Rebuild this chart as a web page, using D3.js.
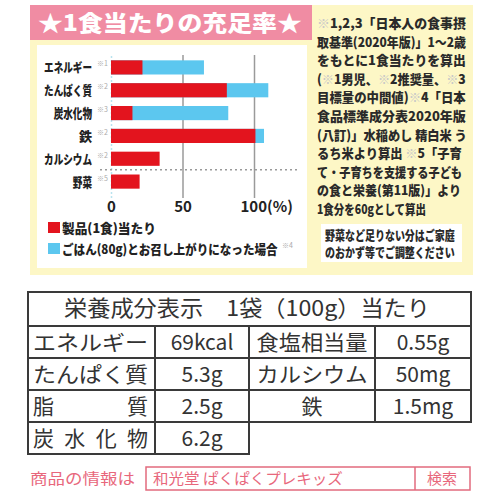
<!DOCTYPE html>
<html>
<head>
<meta charset="utf-8">
<script src="https://cdn.jsdelivr.net/npm/d3@7"></script>
<style>
  body { margin: 0; background: #fff; }
  svg { display: block; }
  text { font-family: "Noto Sans CJK JP", "Noto Sans", sans-serif; }
</style>
</head>
<body>
<svg id="chart" width="500" height="500"></svg>
<script>
var categories = ["エネルギー", "たんぱく質", "炭水化物", "鉄", "カルシウム", "野菜"];
var noteMarks = ["※1", "※2", "※3", "※2", "※2", "※5"];
var productPct = [22, 81, 15, 101, 34, 20];
var withRicePct = [65, 110, 82, 107, 0, 0];
var tickValues = [0, 50, 100];
var legendLabels = ["製品(1食)当たり", "ごはん(80g)とお召し上がりになった場合"];
var legendMarks = ["", "※4"];

var noteLines = [
    "※1,2,3「日本人の食事摂",
    "取基準(2020年版)」1～2歳",
    "をもとに1食当たりを算出",
    "(※1男児、※2推奨量、※3",
    "目標量の中間値)※4「日本",
    "食品標準成分表2020年版",
    "(八訂)」水稲めし 精白米 う",
    "るち米より算出 ※5「子育",
    "て・子育ちを支援する子ども",
    "の食と栄養(第11版)」より",
    "1食分を60gとして算出"
];
var noteWidths = [149, 149, 149, 149, 149, 149, 150, 145, 145, 144, 109];
var adviceLines = ["野菜など足りない分はご家庭", "のおかず等でご調整ください"];

var tableHeader = "栄養成分表示　1袋（100g）当たり";
var tableRows = [
    ["エネルギー", "69kcal", "食塩相当量", "0.55g"],
    ["たんぱく質", "5.3g", "カルシウム", "50mg"],
    ["脂質", "2.5g", "鉄", "1.5mg"],
    ["炭水化物", "6.2g"]
];
var searchLead = "商品の情報は";
var searchWord = "和光堂 ぱくぱくプレキッズ";
var searchButton = "検索";

var red = "#e3141e", blue = "#5cc7ef", pink = "#f08ca3", yellow = "#fdf7c6";

var svg = d3.select("#chart");

// squeeze a text horizontally so it is exactly w wide (anchor: start or end)
function squeeze(sel, tx, ty, w, anchor){
    sel.each(function(d, i){
        var node = this;
        var ww = typeof w === "function" ? w(d, i) : w;
        var len = node.getComputedTextLength();
        var s = ww && len > 0 ? ww / len : 1;
        var xx = typeof tx === "function" ? tx(d, i) : tx;
        var yy = typeof ty === "function" ? ty(d, i) : ty;
        d3.select(node).attr("x", 0).attr("y", 0)
            .attr("text-anchor", anchor || "start")
            .attr("transform", "translate(" + xx + "," + yy + ") scale(" + s + ",1)");
    });
}

// frames
svg.append("rect").attr("x", 30).attr("y", 5).attr("width", 443).attr("height", 270).attr("fill", yellow);
svg.append("rect").attr("x", 30).attr("y", 5).attr("width", 282).attr("height", 35).attr("fill", pink);
svg.append("rect").attr("x", 37).attr("y", 45).attr("width", 270).attr("height", 223).attr("fill", "#fff");

svg.append("text")
    .attr("font-size", 22).attr("font-weight", 900).attr("fill", "#fff")
    .text("★1食当たりの充足率★")
    .call(squeeze, 38, 31, 264);

// scales
var x = d3.scaleLinear().domain([0, 100]).range([111, 254]);
var y = d3.scaleBand().domain(categories).range([56, 193]).paddingInner(0.38).paddingOuter(0.19);

// grid / axis
var axis = svg.append("g")
    .attr("transform", "translate(0,198)")
    .call(d3.axisBottom(x).tickValues(tickValues).tickSize(-143).tickPadding(3)
        .tickFormat(function(d){ return d === 100 ? "100(%)" : d; }));
axis.select(".domain").remove();
axis.selectAll(".tick line")
    .attr("stroke", function(d){ return d === 0 ? "#b9e3ef" : "#9a9a9a"; })
    .attr("stroke-width", 1.5)
    .attr("stroke-dasharray", function(d){ return d === 0 ? "2,2" : null; });
axis.selectAll(".tick text")
    .attr("font-size", 15).attr("font-weight", 700).attr("fill", "#222")
    .attr("font-family", "\"Noto Sans CJK JP\", sans-serif")
    .attr("text-anchor", function(d){ return d === 100 ? "start" : "middle"; })
    .attr("x", function(d){ return d === 100 ? -14 : 0; });

// dotted separator
svg.append("line")
    .attr("x1", 100).attr("x2", 300)
    .attr("y1", y("カルシウム") + y.bandwidth() + 4).attr("y2", y("カルシウム") + y.bandwidth() + 4)
    .attr("stroke", "#999").attr("stroke-width", 1.5).attr("stroke-dasharray", "2,3");

// bars
svg.selectAll(".rice").data(categories).enter().append("rect")
    .attr("x", x(0))
    .attr("y", function(d){ return y(d); })
    .attr("width", function(d, i){ return x(withRicePct[i]) - x(0); })
    .attr("height", y.bandwidth())
    .attr("fill", blue);
svg.selectAll(".prod").data(categories).enter().append("rect")
    .attr("x", x(0))
    .attr("y", function(d){ return y(d); })
    .attr("width", function(d, i){ return x(productPct[i]) - x(0); })
    .attr("height", y.bandwidth())
    .attr("fill", red);

// category labels
var lab = svg.selectAll(".lab").data(categories).enter().append("g");
lab.append("text")
    .attr("font-size", 13).attr("font-weight", 900).attr("fill", "#222")
    .text(function(d){ return d; })
    .call(squeeze, 92, function(d){ return y(d) + y.bandwidth() / 2 + 5; },
        function(d){ return d.length > 1 ? d.length * 9.6 : null; }, "end");
lab.append("text")
    .attr("x", 97)
    .attr("y", function(d){ return y(d) + y.bandwidth() / 2 - 1; })
    .attr("font-size", 7).attr("fill", "#aaa")
    .text(function(d, i){ return noteMarks[i]; });

// legend
var leg = svg.selectAll(".leg").data(legendLabels).enter().append("g")
    .attr("transform", function(d, i){ return "translate(48," + (222 + i * 21) + ")"; });
leg.append("rect").attr("width", 12).attr("height", 11)
    .attr("fill", function(d, i){ return i === 0 ? red : blue; });
leg.append("text")
    .attr("font-size", 13).attr("font-weight", 900).attr("fill", "#222")
    .text(function(d){ return d; })
    .call(squeeze, 14, 10.5, function(d, i){ return i === 0 ? 94 : 216; });
leg.append("text")
    .attr("x", 234).attr("y", 5)
    .attr("font-size", 7).attr("fill", "#aaa")
    .text(function(d, i){ return legendMarks[i]; });

// notes
function markText(sel, str){
    str.split(/(※)/).forEach(function(part){
        if (!part) return;
        sel.append("tspan").attr("fill", part === "※" ? "#c8c8c8" : "#2a2a2a").text(part);
    });
}
noteLines.forEach(function(line, i){
    var t = svg.append("text")
        .attr("font-size", 13).attr("font-weight", 900);
    markText(t, line);
    t.call(squeeze, 317, 28 + i * 18.6, noteWidths[i]);
});
svg.append("rect").attr("x", 321).attr("y", 224).attr("width", 141).attr("height", 38).attr("fill", "#fff");
adviceLines.forEach(function(line, i){
    svg.append("text")
        .attr("font-size", 13).attr("font-weight", 900).attr("fill", "#2a2a2a")
        .text(line)
        .call(squeeze, 325, 240 + i * 17, 130);
});

// nutrition table
var rowTops = [292, 326, 358, 390, 422, 454];
var colX = [28, 155, 249, 375, 471];
var colMid = [0, 202, 312, 423];
var tb = svg.append("g").attr("stroke", "#3a3a3a").attr("stroke-width", 2).attr("fill", "none");
tb.append("rect").attr("x", colX[0]).attr("y", rowTops[0]).attr("width", colX[4] - colX[0]).attr("height", rowTops[4] - rowTops[0]);
tb.append("rect").attr("x", colX[0]).attr("y", rowTops[4]).attr("width", colX[2] - colX[0]).attr("height", rowTops[5] - rowTops[4]);
[1, 2, 3].forEach(function(r){
    tb.append("line").attr("x1", colX[0]).attr("x2", colX[4]).attr("y1", rowTops[r]).attr("y2", rowTops[r]);
});
tb.append("line").attr("x1", colX[1]).attr("x2", colX[1]).attr("y1", rowTops[1]).attr("y2", rowTops[5]);
tb.append("line").attr("x1", colX[2]).attr("x2", colX[2]).attr("y1", rowTops[1]).attr("y2", rowTops[4]);
tb.append("line").attr("x1", colX[3]).attr("x2", colX[3]).attr("y1", rowTops[1]).attr("y2", rowTops[4]);

svg.append("text")
    .attr("x", 64).attr("y", 316)
    .attr("font-size", 22).attr("fill", "#333")
    .attr("textLength", 366).attr("lengthAdjust", "spacingAndGlyphs")
    .text(tableHeader);

tableRows.forEach(function(row, r){
    var cy = (rowTops[r + 1] + rowTops[r + 2]) / 2 + 8;
    row.forEach(function(cell, c){
        var t = svg.append("text").attr("y", cy).attr("font-size", 21).attr("fill", "#333").text(cell);
        if (c === 0) {
            t.attr("x", 33).attr("textLength", 115).attr("lengthAdjust", cell.length < 5 ? "spacing" : "spacingAndGlyphs");
        } else {
            t.attr("x", colMid[c]).attr("text-anchor", "middle");
            if (c === 2 && cell.length > 1) t.attr("textLength", 111).attr("lengthAdjust", "spacingAndGlyphs");
        }
    });
});

// search bar
svg.append("text").attr("font-size", 15).attr("fill", "#e8677c")
    .text(searchLead).call(squeeze, 30, 484, 105);
svg.append("rect").attr("x", 146).attr("y", 467).attr("width", 324).attr("height", 23)
    .attr("fill", "none").attr("stroke", "#e26b7e").attr("stroke-width", 1.5);
svg.append("line").attr("x1", 415).attr("x2", 415).attr("y1", 467).attr("y2", 490)
    .attr("stroke", "#e26b7e").attr("stroke-width", 1.5);
svg.append("text").attr("font-size", 15).attr("fill", "#e8677c")
    .text(searchWord).call(squeeze, 153, 484, 190);
svg.append("text").attr("x", 442).attr("y", 484).attr("text-anchor", "middle").attr("font-size", 15).attr("fill", "#e8677c").text(searchButton);
</script>
</body>
</html>
